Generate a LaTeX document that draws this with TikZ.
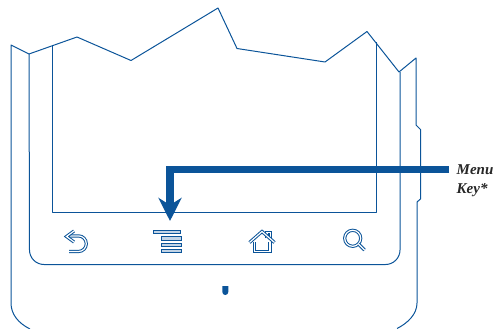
\documentclass[tikz,border=0pt]{standalone}
\usepackage{fontspec}
\setmainfont{Liberation Serif}
\usetikzlibrary{arrows.meta}
\definecolor{phoneblue}{HTML}{0B5499}
\tikzset{
  outline/.style={draw=phoneblue, line width=1pt, line join=round},
  iconline/.style={draw=phoneblue, line width=1pt, double=white, double distance=1.2pt, line join=miter},
  menubar/.style={draw=phoneblue, line width=0.9pt, fill=phoneblue!25, rectangle, inner sep=0pt, minimum height=3.4pt},
  pointer/.style={draw=phoneblue, line width=7.5pt, -{Stealth[length=23pt,width=23pt,inset=7pt]}}
}
\begin{document}
\begin{tikzpicture}[x=1pt,y=-1pt]
\useasboundingbox (0,0) rectangle (495,329);
% phone body
\draw[outline] (30,329) .. controls (18,323) and (11,314) .. (11,303) -- (11,45) -- (29,54) -- (77,37) -- (131,60.5) -- (218,8) -- (237,48.5) -- (325,62) -- (367,31.5) -- (399,72) -- (416,58) -- (416,125) -- (420.5,129.5) -- (420.5,199) -- (417,202) -- (417,303) .. controls (417,314) and (408,323) .. (397,328.5);
% key panel and screen
\draw[outline] (29,54) -- (29.5,250) arc[start angle=180, end angle=90, radius=14.5] -- (385.5,264.5) arc[start angle=90, end angle=0, radius=14.5] -- (400,72);
\draw[outline] (52,45.5) -- (52,212.5) -- (376,212.5) -- (376,42);
% back key
\draw[iconline] (69,251.5) -- (78.5,251.5) arc[start angle=90, end angle=-90, radius=7.8] -- (67,235.9);
\draw[iconline] (74,231) -- (66.5,236.5) -- (74,242);
% menu key
\node[menubar, minimum width=27pt] (bara) at (167.3,231.8) {};
\foreach \name/\ypos in {barb/238.4, barc/244.8, bard/251.2}
  \node[menubar, minimum width=20pt] (\name) at (171,\ypos) {};
% home key
\draw[iconline] (267,238) -- (267,232.5) -- (270.5,232.5) -- (270.5,240);
\draw[iconline] (254.5,242) -- (254.5,251.5) -- (270,251.5) -- (270,242);
\draw[iconline] (249.5,242.5) -- (262,231.5) -- (274.5,242.5);
% search key
\draw[iconline] (352.7,238.3) circle[radius=8];
\draw[iconline] (358.5,244) -- (364.5,250);
% speaker dot
\fill[phoneblue] (222.3,286) -- (228.3,286) -- (228.3,292) arc[start angle=0, end angle=180, radius=3] -- cycle;
% label and arrow
\node[anchor=north west, align=left, inner sep=0pt, font=\bfseries\itshape\fontsize{15}{19}\selectfont, text=black!85] (menukey) at (456.5,164) {Menu\\Key*};
\coordinate (menustart) at (449,169.3);
\coordinate (menutip) at (170,221);
\draw[pointer] (menustart) -| (menutip);
\end{tikzpicture}
\end{document}
